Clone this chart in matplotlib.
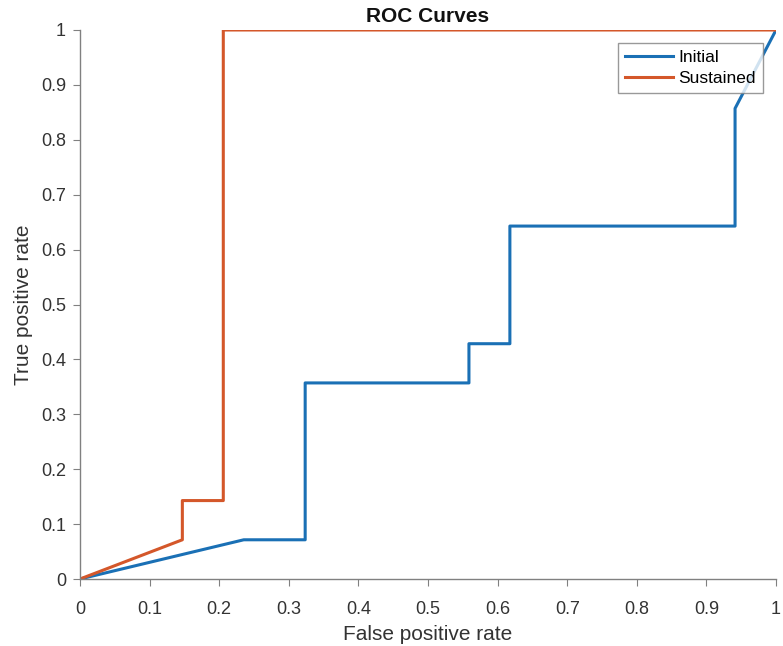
import numpy as np
import matplotlib
matplotlib.use("Agg")
import matplotlib.pyplot as plt

plt.rcParams['font.family'] = ['Liberation Sans', 'DejaVu Sans']

# ROC points (34 negatives, 14 positives)
initial_fpr = [0, 8/34, 11/34, 11/34, 19/34, 19/34, 21/34, 21/34, 32/34, 32/34, 1]
initial_tpr = [0, 1/14, 1/14, 5/14, 5/14, 6/14, 6/14, 9/14, 9/14, 12/14, 1]
sustained_fpr = [0, 5/34, 5/34, 7/34, 7/34, 1]
sustained_tpr = [0, 1/14, 2/14, 2/14, 1, 1]

ticks = np.round(np.arange(0, 1.01, 0.1), 1)
tick_labels = ['0', '0.1', '0.2', '0.3', '0.4', '0.5', '0.6', '0.7', '0.8', '0.9', '1']

fig = plt.figure(figsize=(7.83, 6.46), dpi=100)
ax = fig.add_axes([80/783, 67/646, 696/783, 549/646])

ax.plot(initial_fpr, initial_tpr, color='#1A70B5', lw=2.2, label='Initial')
ax.plot(sustained_fpr, sustained_tpr, color='#D4572A', lw=2.2, label='Sustained')

ax.set_xlim(0, 1)
ax.set_ylim(0, 1)
ax.set_xticks(ticks)
ax.set_xticklabels(tick_labels)
ax.set_yticks(ticks)
ax.set_yticklabels(tick_labels)
for s in ['top', 'right']:
    ax.spines[s].set_visible(False)
for s in ['left', 'bottom']:
    ax.spines[s].set_color('#808080')
    ax.spines[s].set_linewidth(1.0)
ax.tick_params(direction='out', length=5, color='#808080', labelcolor='#333333',
               labelsize=13)
ax.tick_params(axis='x', pad=11)
ax.tick_params(axis='y', pad=5)

ax.set_xlabel('False positive rate', fontsize=15, color='#333333', labelpad=5)
ax.set_ylabel('True positive rate', fontsize=15, color='#333333', labelpad=6)
ax.set_title('ROC Curves', fontsize=15, fontweight='bold', color='#111111', pad=6)

leg = ax.legend(loc='upper right', bbox_to_anchor=(0.981, 0.976), borderaxespad=0,
                fancybox=False, edgecolor='#808080', fontsize=12.5, handlelength=2.75,
                handletextpad=0.3, borderpad=0.4, labelspacing=0.3)
leg.get_frame().set_linewidth(1.0)

fig.savefig('out.png', dpi=100)
